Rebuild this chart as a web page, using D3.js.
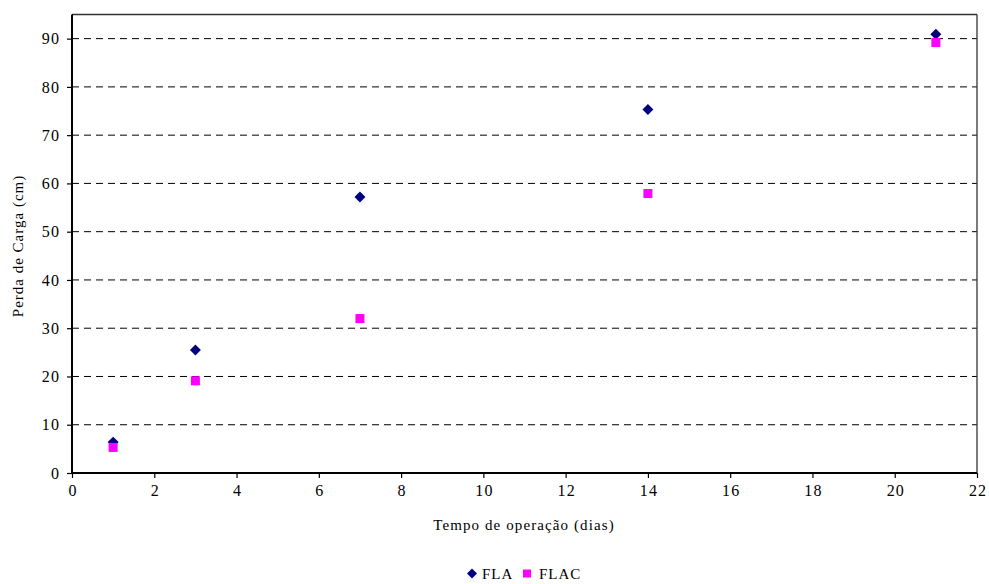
<!DOCTYPE html>
<html><head><meta charset="utf-8">
<script src="https://cdn.jsdelivr.net/npm/d3@7"></script>
<style>body{margin:0;background:#fff;}</style>
</head><body>
<script>
const days = [1, 3, 7, 14, 21];
const fla = [6.4, 25.5, 57.2, 75.3, 90.9];
const flac = [5.3, 19.1, 32.0, 57.9, 89.2];
const xTicks = [0,2,4,6,8,10,12,14,16,18,20,22];
const yTicks = [0,10,20,30,40,50,60,70,80,90];
const seriesNames = ["FLA","FLAC"];
const colors = ["#000080","#FF00FF"];

const FONT='"Liberation Serif","Times New Roman",serif';
const W=989,H=584;
const svg=d3.select("body").append("svg").attr("width",W).attr("height",H)
  .style("font-family",FONT);
const L=72,R=977,T=14.5,B=473;
const x=d3.scaleLinear().domain([0,22]).range([L,R]);
const y=d3.scaleLinear().domain([0,95]).range([B,T]);

// grid
svg.append("g").selectAll("line").data(yTicks.filter(d=>d>0)).join("line")
  .attr("x1",L).attr("x2",R).attr("y1",d=>y(d)).attr("y2",d=>y(d))
  .attr("stroke","#000").attr("stroke-width",1).attr("stroke-dasharray","7,5");

// frame top/right
svg.append("line").attr("x1",L).attr("x2",R).attr("y1",T).attr("y2",T).attr("stroke","#333").attr("stroke-width",1.3);
svg.append("line").attr("x1",R).attr("x2",R).attr("y1",T).attr("y2",B).attr("stroke","#333").attr("stroke-width",1.3);

const xa=svg.append("g").attr("transform",`translate(0,${B})`)
  .call(d3.axisBottom(x).tickValues(xTicks).tickSize(5).tickPadding(7).tickFormat(d3.format("d")));
const ya=svg.append("g").attr("transform",`translate(${L},0)`)
  .call(d3.axisLeft(y).tickValues(yTicks).tickSize(5).tickPadding(6.8).tickFormat(d3.format("d")));
[xa,ya].forEach(a=>{
  a.attr("font-family",null).attr("font-size",null);
  a.select(".domain").attr("stroke","#000").attr("stroke-width",2);
  a.selectAll(".tick line").attr("stroke","#000").attr("stroke-width",1.2);
  a.selectAll("text").style("font-size","16px").style("font-family",FONT)
    .style("letter-spacing","1.2px").attr("fill","#000");
});
xa.selectAll("text").attr("dx","0.6");
ya.select(".domain").attr("d",`M-0,${B}V${T}`);
xa.select(".domain").attr("d",`M${L},0H${R}`);

// markers
const diamond=d3.symbol().type(d3.symbolSquare).size(60);
svg.append("g").selectAll("path").data(days.map((d,i)=>[d,fla[i]])).join("path")
  .attr("d",diamond).attr("transform",d=>`translate(${x(d[0])},${y(d[1])}) rotate(45)`)
  .attr("fill",colors[0]);
svg.append("g").selectAll("rect").data(days.map((d,i)=>[d,flac[i]])).join("rect")
  .attr("x",d=>x(d[0])-4.5).attr("y",d=>y(d[1])-4.5).attr("width",9).attr("height",9)
  .attr("fill",colors[1]);

// titles
svg.append("text").attr("x",524).attr("y",530).attr("text-anchor","middle")
  .style("font-size","15px").style("letter-spacing","1.1px").text("Tempo de operação (dias)");
svg.append("text").attr("transform","translate(23,246) rotate(-90)").attr("text-anchor","middle")
  .style("font-size","15px").style("letter-spacing","1px").text("Perda de Carga (cm)");

// legend
const lg=svg.append("g");
const sq=d3.symbol().type(d3.symbolSquare).size(50);
lg.append("path").attr("d",sq).attr("transform","translate(472,573.5) rotate(45)").attr("fill",colors[0]);
lg.append("text").attr("x",482).attr("y",579).style("font-size","15px").style("letter-spacing","1px").text(seriesNames[0]);
lg.append("rect").attr("x",523).attr("y",569.5).attr("width",8).attr("height",8).attr("fill",colors[1]);
lg.append("text").attr("x",539).attr("y",579).style("font-size","15px").style("letter-spacing","1px").text(seriesNames[1]);
</script>
</body></html>
